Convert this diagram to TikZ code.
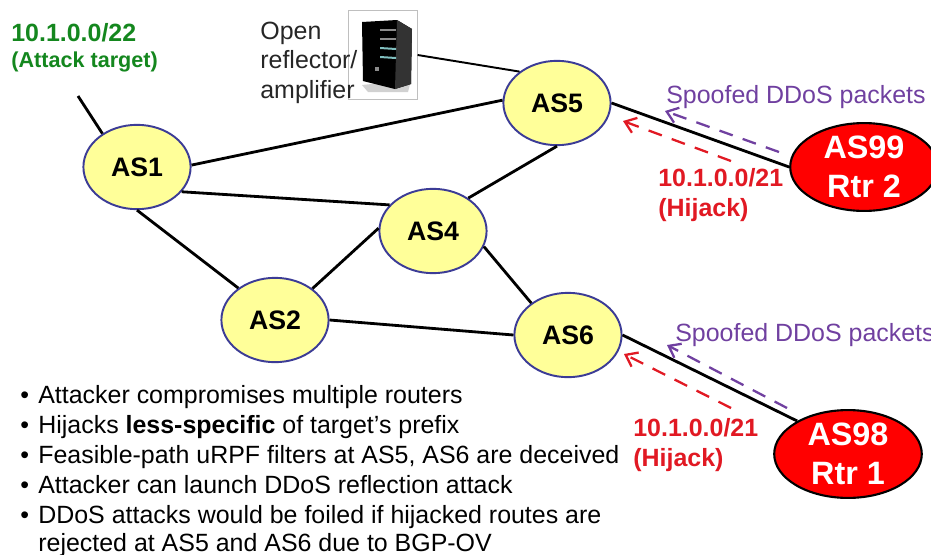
\documentclass[tikz,border=0pt]{standalone}
\usepackage{fontspec}
\setmainfont{Liberation Sans}
\definecolor{asfill}{RGB}{255,255,153}
\definecolor{asline}{RGB}{60,60,150}
\definecolor{targetgreen}{RGB}{20,135,30}
\definecolor{spoofviolet}{RGB}{112,64,160}
\definecolor{hijackred}{RGB}{225,25,35}
\usetikzlibrary{shapes.geometric,arrows.meta}
\tikzset{
  asnode/.style={draw=asline,fill=asfill,line width=1.1pt,ellipse,inner sep=0pt,minimum width=61pt,minimum height=48pt,font=\fontsize{15.2}{17}\selectfont\bfseries},
  rtrnode/.style={draw=black,fill=red,line width=1.2pt,ellipse,inner sep=0pt,align=center,minimum width=84pt,minimum height=50pt,text=white,font=\fontsize{18.4}{22}\selectfont\bfseries},
  link/.style={draw,line width=1.6pt},
  spoofed/.style={draw=spoofviolet,line width=1.3pt,dash pattern=on 8pt off 6pt,-{Straight Barb[length=6pt,width=9pt]}},
  hijack/.style={draw=hijackred,line width=1.3pt,dash pattern=on 8pt off 6pt,-{Straight Barb[length=6pt,width=9pt]}},
  plain/.style={anchor=base west,inner sep=0pt,font=\fontsize{14.2}{17}\selectfont},
  boldred/.style={plain,text=hijackred,font=\fontsize{14.2}{17}\selectfont\bfseries}
}
\begin{document}
\begin{tikzpicture}[x=0.02cm,y=-0.02cm]
\useasboundingbox (0,0) rectangle (931,555);

% server box
\node[draw=black!25,fill=white,minimum width=39pt,minimum height=50.5pt,inner sep=0pt] (srv) at (383,55) {};
\fill[black!18] (362,85) -- (411,80) -- (408,92) -- (368,92) -- cycle;
\fill[black] (362,22) -- (397,20) -- (412,29) -- (411,84) -- (395,89) -- (363,81) -- cycle;
\fill[black!80] (397,20) -- (412,29) -- (411,84) -- (395,89) -- cycle;
\fill[black!45] (380,29) -- (396,29) -- (396,30.5) -- (380,30.5) -- cycle;
\fill[black!45] (380,38) -- (396,38) -- (396,39.5) -- (380,39.5) -- cycle;
\fill[teal!50] (380,47) -- (396,48) -- (396,50) -- (380,49) -- cycle;
\fill[teal!50] (380,56) -- (396,57) -- (396,59) -- (380,58) -- cycle;
\fill[black!45] (375,67) rectangle (379,71);

\node[asnode] (as1) at (137,167) {AS1};
\node[asnode] (as2) at (275,320) {AS2};
\node[asnode] (as4) at (433,231) {AS4};
\node[asnode] (as5) at (557,103) {AS5};
\node[asnode] (as6) at (568,335) {AS6};
\node[rtrnode] (as99) at (864,167) {AS99\\Rtr 2};
\node[rtrnode] (as98) at (848,454) {AS98\\Rtr 1};

\coordinate (stub) at (78,96);

\draw[link] (stub) -- (as1.136);
\draw[link] (as1.2) -- (as5.177);
\draw[link] (as1.-29) -- (as4.149);
\draw[link] (as1.south) -- (as2.139);
\draw[link] (as2.40) -- (as4.177);
\draw[link] (as2.east) -- (as6.west);
\draw[link] (as4.43) -- (as5.south);
\draw[link] (as4.-17) -- (as6.139);
\draw[link] (as5.east) -- (as99.west);
\draw[link] (as6.east) -- (as98.147);
\draw[line width=1.1pt] (srv.east) -- (as5.140);

% attack traffic
\coordinate (s1) at (779,152);
\coordinate (s2) at (665,111);
\coordinate (s3) at (787,408);
\coordinate (s4) at (667,345);
\coordinate (h1) at (731,161);
\coordinate (h2) at (623,121);
\coordinate (h3) at (731,408);
\coordinate (h4) at (624,354);
\draw[spoofed] (s1) -- (s2);
\draw[spoofed] (s3) -- (s4);
\draw[hijack] (h1) -- (h2);
\draw[hijack] (h3) -- (h4);

\node[plain,text=targetgreen,font=\fontsize{14.2}{17}\selectfont\bfseries] (target) at (11,41) {10.1.0.0/22};
\node[plain,text=targetgreen,font=\fontsize{12.3}{15}\selectfont\bfseries] (targetb) at (11,67) {(Attack target)};
\node[plain,text=black!85] (open) at (260,39) {Open};
\node[plain,text=black!85] (reflector) at (260,68) {reflector/};
\node[plain,text=black!85] (amplifier) at (260,98) {amplifier};
\node[plain,text=spoofviolet] (spoof1) at (666,103) {Spoofed DDoS packets};
\node[plain,text=spoofviolet] (spoof2) at (675,341) {Spoofed DDoS packets};
\node[boldred] (prefix1) at (658,186) {10.1.0.0/21};
\node[boldred] (hijack1) at (658,216) {(Hijack)};
\node[boldred] (prefix2) at (633,436) {10.1.0.0/21};
\node[boldred] (hijack2) at (633,466) {(Hijack)};

\foreach \y/\n in {403/1,433/2,463/3,493/4,523/5}
  \node[plain] (b\n) at (20,\y) {•};
\node[plain] (t1) at (38,403) {Attacker compromises multiple routers};
\node[plain] (t2) at (38,433) {Hijacks \textbf{less-specific} of target’s prefix};
\node[plain] (t3) at (38,463) {Feasible-path uRPF filters at AS5, AS6 are deceived};
\node[plain] (t4) at (38,493) {Attacker can launch DDoS reflection attack};
\node[plain] (t5) at (38,523) {DDoS attacks would be foiled if hijacked routes are};
\node[plain] (t6) at (38,551) {rejected at AS5 and AS6 due to BGP-OV};
\end{tikzpicture}
\end{document}
